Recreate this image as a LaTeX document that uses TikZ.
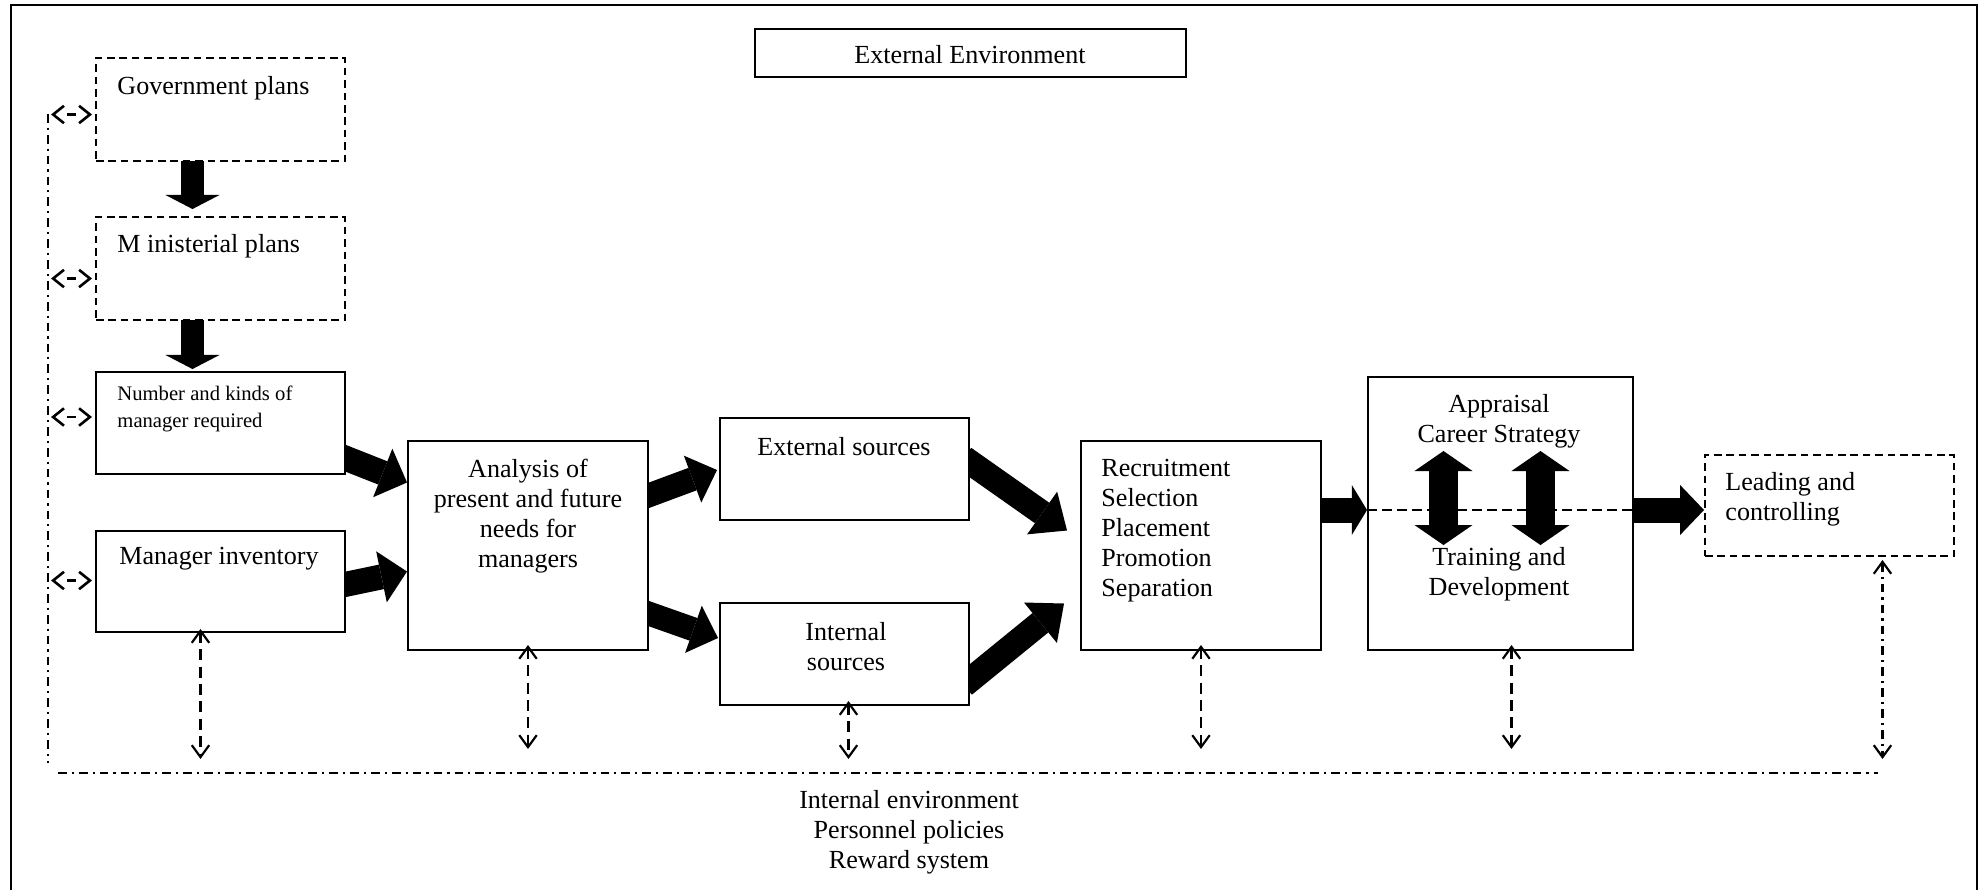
\documentclass[tikz,border=0pt]{standalone}
\usepackage{fontspec}
\setmainfont{Liberation Serif}
\usetikzlibrary{arrows.meta,calc,fit,backgrounds}
\begin{document}
\begin{tikzpicture}[x=0.46pt,y=-0.46pt,
  every node/.style={font=\fontsize{12}{13.8}\selectfont, inner sep=0pt},
  solidbox/.style={draw, line width=0.9pt, fill=white, inner sep=0pt},
  dashbox/.style={solidbox, dash pattern=on 3.5pt off 2.2pt},
  fat/.style n args={4}{line width=#1, -{Triangle[length=#2,width=#3,line width=0pt]}, draw=black},
  dblfat/.style={line width=12.9pt, {Triangle[length=9.2pt,width=26.7pt,line width=0pt]}-{Triangle[length=9.2pt,width=26.7pt,line width=0pt]}},
  smallhead/.style={line width=1.2pt, dash pattern=on 0pt off 40pt,
     {Straight Barb[length=5pt,width=8pt]}-{Straight Barb[length=5pt,width=8pt]}},
  smalldash/.style={line width=1.2pt},
  dsharr/.style={line width=1pt, dash pattern=on 5pt off 3pt,
     {Straight Barb[length=5.5pt,width=8pt]}-{Straight Barb[length=5.5pt,width=8pt]}},
  dashdot/.style={line width=1pt, dash pattern=on 4pt off 2.3pt on 1pt off 2.3pt},
  dddarr/.style={dashdot, {Straight Barb[length=5.5pt,width=8pt]}-{Straight Barb[length=5.5pt,width=8pt]}},
  midline/.style={line width=0.9pt, dash pattern=on 4.6pt off 2.3pt}
]
\useasboundingbox (0,0) rectangle (1982,890);

% outer frame
\draw[line width=1.3pt] (11,890) -- (11,5) -- (1977,5) -- (1977,890);

% boxes
\node[solidbox, fit={(755,29)(1186,77)}] (extenv) {};
\node[dashbox, fit={(96,58)(345,161)}] (gov) {};
\node[dashbox, fit={(96,217)(345,320)}] (min) {};
\node[solidbox, fit={(96,372)(345,474)}] (num) {};
\node[solidbox, fit={(96,531)(345,632)}] (inv) {};
\node[solidbox, fit={(408,441)(648,650)}] (ana) {};
\node[solidbox, fit={(720,418)(969,520)}] (ext) {};
\node[solidbox, fit={(720,603)(969,705)}] (int) {};
\node[solidbox, fit={(1081,441)(1321,650)}] (rec) {};
\node[solidbox, fit={(1368,377)(1633,650)}] (app) {};
\node[dashbox, fit={(1705,455)(1954,556)}] (lead) {};

% texts
\node (extenvt) at (970,55) {External Environment};
\node[anchor=west] (govt) at (117,88) {Government plans};
\node[anchor=west] (mint) at (117,246) {M inisterial plans};
\node[anchor=west, align=left, font=\fontsize{9.5}{12.2}\selectfont] (numt) at (117,409) {Number and kinds of\\manager required};
\node (invt) at (219,559) {Manager inventory};
\node[align=center] (anat) at (528,516) {Analysis of\\present and future\\needs for\\managers};
\node (extt) at (844,447) {External sources};
\node[align=center] (intt) at (846,647) {Internal\\sources};
\node[anchor=west, align=left] (rect) at (1101,531) {Recruitment\\Selection\\Placement\\Promotion\\Separation};
\node[align=center] (appt) at (1499,421) {Appraisal\\Career Strategy};
\node[align=center] (trt) at (1499,574) {Training and\\Development};
\node[anchor=west, align=left] (leadt) at (1725,499) {Leading and\\controlling};
\node[align=center] (intenv) at (909,832) {Internal environment\\Personnel policies\\Reward system};

% fat arrows (behind boxes)
\begin{scope}[on background layer]
\draw[fat={11pt}{6.5pt}{25pt}{}] ($(gov.south)+(-28,-4)$) -- ($(min.north)+(-28,-7)$);
\draw[fat={11pt}{6.5pt}{25pt}{}] ($(min.south)+(-28,-4)$) -- ($(num.north)+(-28,-2)$);
\draw[fat={11.5pt}{12pt}{24pt}{}] ($(num.east)+(-6,33)$) -- ($(ana.west)+(0,-63)$);
\draw[fat={11.5pt}{12pt}{24pt}{}] ($(inv.east)+(-6,4)$) -- ($(ana.west)+(0,26)$);
\draw[fat={11pt}{12pt}{23pt}{}] ($(ana.east)+(-6,-48)$) -- ($(ext.west)+(-2,1)$);
\draw[fat={11pt}{12pt}{23pt}{}] ($(ana.east)+(-6,66)$) -- ($(int.west)+(-1,-16)$);
\draw[fat={11.5pt}{14pt}{24pt}{}] ($(ext.east)+(-6,-11)$) -- ($(rec.west)+(-13,-15)$);
\draw[fat={11.5pt}{14pt}{24pt}{}] ($(int.east)+(-6,31)$) -- ($(rec.west)+(-16,58)$);
\coordinate (lvl) at (0,510);
\draw[fat={11.5pt}{7pt}{23pt}{}] ($(rec.east |- lvl)+(-3,0)$) -- (app.west |- lvl);
\draw[fat={11.5pt}{11pt}{23pt}{}] ($(app.east |- lvl)+(-3,0)$) -- (lead.west |- lvl);
\end{scope}

% inside appraisal box
\draw[midline] (app.west |- lvl) -- (app.east |- lvl);
\draw[dblfat] ($(app.north)+(-57,75)$) -- ($(app.north)+(-57,169)$);
\draw[dblfat] ($(app.north)+(40,75)$) -- ($(app.north)+(40,169)$);

% internal environment lines
\coordinate (ieL) at (58,773);
\coordinate (ieR) at (1878,773);
\draw[dashdot] (ieL) -- (ieR);
\coordinate (lvT) at (48,114);
\coordinate (lvB) at (48,763);
\draw[dashdot] (lvT) -- (lvB);

% small left arrows
\foreach \b/\dy in {gov/5, min/10, num/-6, inv/-1}{
  \draw[smallhead] ($(\b.west)+(-44,\dy)$) -- ($(\b.west)+(-3,\dy)$);
  \draw[smalldash] ($(\b.west)+(-28,\dy)$) -- ($(\b.west)+(-19,\dy)$);
}

% vertical dashed arrows
\draw[dsharr] ($(inv.south)+(-20,-4)$) -- ($(inv.south)+(-20,126)$);
\draw[dsharr] ($(ana.south)+(0,-6)$) -- ($(ana.south)+(0,98)$);
\draw[dsharr] ($(int.south)+(4,-5)$) -- ($(int.south)+(4,53)$);
\draw[dsharr] ($(rec.south)+(0,-6)$) -- ($(rec.south)+(0,98)$);
\draw[dsharr] ($(app.south)+(11,-6)$) -- ($(app.south)+(11,98)$);
\draw[dddarr] ($(lead.south)+(53,3)$) -- ($(lead.south)+(53,202)$);
\end{tikzpicture}
\end{document}
